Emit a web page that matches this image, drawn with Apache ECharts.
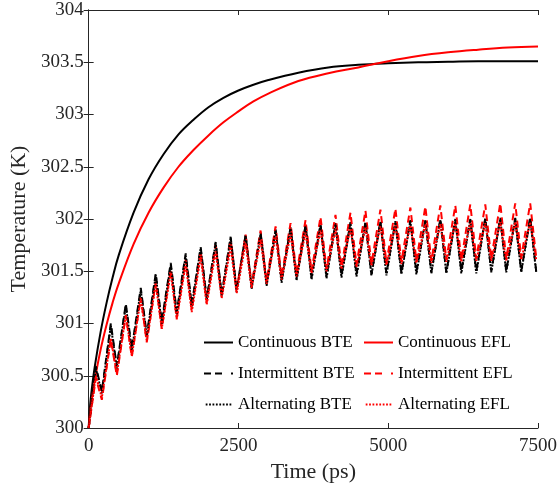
<!DOCTYPE html>
<html><head><meta charset="utf-8">
<script src="https://cdn.jsdelivr.net/npm/echarts@6/dist/echarts.min.js"></script>
<style>html,body{margin:0;padding:0;background:#fff}#c{width:560px;height:490px}</style>
</head><body><div id="c"></div>
<script>
// Continuous curves
const contTime = [0,25,50,100,200,300,400,500,750,1000,1250,1500,1750,2000,2250,2500,2750,3000,3500,4000,4500,5000,5500,6000,6500,7000,7500];
const contBTE = [300,300.22,300.36,300.58,300.92,301.2,301.44,301.65,302.06,302.38,302.62,302.81,302.95,303.07,303.16,303.23,303.285,303.33,303.4,303.45,303.475,303.49,303.5,303.505,303.51,303.51,303.51];
const contEFL = [300,300.15,300.26,300.45,300.75,300.99,301.2,301.38,301.76,302.06,302.3,302.5,302.66,302.8,302.925,303.03,303.125,303.2,303.32,303.395,303.45,303.51,303.56,303.595,303.62,303.64,303.65];

// Oscillating curves: start point, then peaks and troughs
const startTime = 0, startTemp = 300;
const peakTime = [120,370,620,870,1120,1370,1620,1870,2120,2370,2620,2870,3120,3370,3620,3870,4120,4370,4620,4870,5120,5370,5620,5870,6120,6370,6620,6870,7120,7370];
const troughTime = [220,470,720,970,1220,1470,1720,1970,2220,2470,2720,2970,3220,3470,3720,3970,4220,4470,4720,4970,5220,5470,5720,5970,6220,6470,6720,6970,7220,7470];

const intBTEPeak = [300.59,301.0,301.19,301.34,301.48,301.58,301.67,301.73,301.78,301.83,301.85,301.87,301.9,301.92,301.94,301.95,301.96,301.97,301.97,301.98,301.98,301.99,301.99,302.0,302.0,302.0,302.01,302.01,302.01,302.02];
const intBTETrough = [300.35,300.59,300.76,300.89,301.02,301.11,301.18,301.24,301.28,301.32,301.35,301.38,301.41,301.43,301.44,301.45,301.46,301.47,301.47,301.48,301.48,301.49,301.49,301.49,301.5,301.5,301.5,301.5,301.5,301.5];

const altBTEPeak = [300.57,300.98,301.17,301.32,301.46,301.56,301.65,301.72,301.77,301.82,301.84,301.86,301.89,301.91,301.93,301.94,301.95,301.96,301.96,301.97,301.97,301.98,301.98,301.99,301.99,301.99,302.0,302.0,302.0,302.0];
const altBTETrough = [300.33,300.57,300.74,300.87,301.0,301.09,301.16,301.22,301.26,301.3,301.33,301.36,301.39,301.41,301.42,301.43,301.44,301.45,301.46,301.46,301.47,301.47,301.48,301.48,301.48,301.48,301.49,301.49,301.49,301.49];

const intEFLPeak = [300.48,300.85,301.08,301.25,301.4,301.52,301.61,301.69,301.75,301.8,301.85,301.89,301.93,301.96,301.99,302.02,302.04,302.06,302.08,302.09,302.1,302.11,302.12,302.13,302.13,302.14,302.14,302.15,302.15,302.15];
const intEFLTrough = [300.27,300.5,300.68,300.82,300.95,301.05,301.13,301.2,301.26,301.32,301.37,301.41,301.45,301.48,301.5,301.52,301.54,301.56,301.57,301.58,301.59,301.6,301.6,301.61,301.61,301.62,301.62,301.62,301.63,301.63];

const altEFLPeak = [300.5,300.86,301.08,301.24,301.38,301.49,301.57,301.64,301.69,301.73,301.77,301.8,301.83,301.85,301.87,301.89,301.9,301.91,301.92,301.93,301.94,301.94,301.95,301.95,301.96,301.96,301.96,301.97,301.97,301.97];
const altEFLTrough = [300.29,300.52,300.69,300.83,300.95,301.04,301.11,301.18,301.24,301.29,301.34,301.38,301.42,301.45,301.48,301.5,301.52,301.54,301.55,301.56,301.57,301.58,301.58,301.59,301.59,301.6,301.6,301.6,301.61,301.61];

const seriesNames = ['Continuous BTE','Continuous EFL','Intermittent BTE','Intermittent EFL','Alternating BTE','Alternating EFL'];
const xTicks = [0,2500,5000,7500];
const yTicks = [300,300.5,301,301.5,302,302.5,303,303.5,304];

function pairs(t, v){ return t.map((x,i)=>[x,v[i]]); }
function osc(peaks, troughs){
  const d=[[startTime,startTemp]];
  for(let i=0;i<peaks.length;i++){ d.push([peakTime[i],peaks[i]]); d.push([troughTime[i],troughs[i]]); }
  return d;
}

// legend icon paths (29 x 2 boxes)
function rects(segs){ return 'path://' + segs.map(s=>'M'+s[0]+',0H'+s[1]+'V2H'+s[0]+'Z').join(''); }
const iconSolid = rects([[0,29]]);
const iconDashed = rects([[0,7],[11,18],[27,29]]);
const dotSegs=[]; for(let x=0;x<=27;x+=3.4){ dotSegs.push([+x.toFixed(1), +(x+1.8).toFixed(1)]); }
const iconDotted = rects(dotSegs);

const FONT = "'Liberation Serif', 'Times New Roman', serif";
const AX = '#262626';
const chart = echarts.init(document.getElementById('c'), null, {renderer:'canvas'});

function line(name, data, color, type, smooth){
  return {name, type:'line', data, symbol:'none', smooth: smooth||false, xAxisIndex:0, yAxisIndex:0,
    lineStyle:{color, width:2, type}, itemStyle:{color}, animation:false, z:2};
}

const baseX = {type:'value', min:xTicks[0], max:xTicks[xTicks.length-1], interval:xTicks[1]-xTicks[0]};
const baseY = {type:'value', min:yTicks[0], max:yTicks[yTicks.length-1], interval:yTicks[1]-yTicks[0]};
const legText = {fontFamily:FONT, fontSize:17, color:'#000'};

chart.setOption({
  animation:false,
  backgroundColor:'#fff',
  grid:{left:86, right:20, top:10, bottom:62, containLabel:false},
  legend:[
    {data:[{name:seriesNames[0], icon:iconSolid},{name:seriesNames[2], icon:iconDashed},{name:seriesNames[4], icon:iconDotted}],
     orient:'vertical', left:199, top:329, itemWidth:29, itemHeight:2, itemGap:14, textStyle:legText, selectedMode:false},
    {data:[{name:seriesNames[1], icon:iconSolid},{name:seriesNames[3], icon:iconDashed},{name:seriesNames[5], icon:iconDotted}],
     orient:'vertical', left:359, top:329, itemWidth:29, itemHeight:2, itemGap:14, textStyle:legText, selectedMode:false}
  ],
  xAxis:[
    Object.assign({}, baseX, {position:'bottom', name:'Time (ps)', nameLocation:'middle', nameGap:33,
      nameTextStyle:{fontFamily:FONT, fontSize:22, color:AX},
      axisLine:{show:true, lineStyle:{color:AX, width:1}}, axisTick:{show:true, inside:true, length:5, lineStyle:{color:AX}},
      axisLabel:{fontFamily:FONT, fontSize:19, color:AX, margin:9, formatter:(v)=>String(v)}, splitLine:{show:false}}),
    Object.assign({}, baseX, {position:'top',
      axisLine:{show:true, lineStyle:{color:AX, width:1}}, axisTick:{show:true, inside:true, length:5, lineStyle:{color:AX}},
      axisLabel:{show:false}, splitLine:{show:false}})
  ],
  yAxis:[
    Object.assign({}, baseY, {position:'left', name:'Temperature (K)', nameLocation:'middle', nameGap:52,
      nameTextStyle:{fontFamily:FONT, fontSize:22, color:AX},
      axisLine:{show:true, lineStyle:{color:AX, width:1}}, axisTick:{show:true, inside:true, length:5, lineStyle:{color:AX}},
      axisLabel:{fontFamily:FONT, fontSize:19, color:AX, margin:5, formatter:(v)=>String(v)}, splitLine:{show:false}}),
    Object.assign({}, baseY, {position:'right',
      axisLine:{show:true, lineStyle:{color:AX, width:1}}, axisTick:{show:true, inside:true, length:5, lineStyle:{color:AX}},
      axisLabel:{show:false}, splitLine:{show:false}})
  ],
  series:[
    line(seriesNames[0], pairs(contTime, contBTE), '#000000', 'solid', 0.4),
    line(seriesNames[1], pairs(contTime, contEFL), '#ff0000', 'solid', 0.4),
    line(seriesNames[2], osc(intBTEPeak, intBTETrough), '#000000', [7,4.5]),
    line(seriesNames[3], osc(intEFLPeak, intEFLTrough), '#ff0000', [7,4.5]),
    line(seriesNames[4], osc(altBTEPeak, altBTETrough), '#000000', [2,1.5]),
    line(seriesNames[5], osc(altEFLPeak, altEFLTrough), '#ff0000', [2,1.5])
  ]
});
</script></body></html>
